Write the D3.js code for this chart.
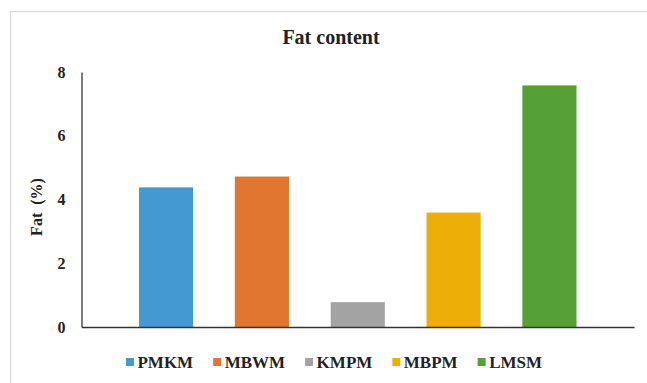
<!DOCTYPE html>
<html>
<head>
<meta charset="utf-8">
<script src="https://cdn.jsdelivr.net/npm/d3@7"></script>
<style>
  html, body { margin: 0; padding: 0; background: #fff; }
  svg { display: block; }
</style>
</head>
<body>
<svg id="chart" width="647" height="383"></svg>
<script>
// Fat content (%) per milk sample
const categories = ["PMKM", "MBWM", "KMPM", "MBPM", "LMSM"];
const fatValues = [4.38, 4.72, 0.78, 3.59, 7.58];
const barColors = ["#4499d3", "#e0762f", "#a3a3a3", "#edae08", "#56a136"];
const yTicks = [0, 2, 4, 6, 8];
const chartTitle = "Fat content";
const yTitleParts = ["Fat", "(%)"];

const SERIF = "'Liberation Serif', 'Times New Roman', serif";
const INK = "#222";

const svg = d3.select("#chart");
const W = 647, H = 383;

// chart frame (extends past the right and bottom edges)
svg.append("rect")
  .attr("x", 10.5).attr("y", 11.5)
  .attr("width", W).attr("height", H)
  .attr("fill", "#fff")
  .attr("stroke", "#d9d9d9").attr("stroke-width", 1.2);

const plot = { left: 81.5, right: 634, top: 72, bottom: 327 };

const x = d3.scaleBand()
  .domain(categories)
  .range([plot.left, plot.right])
  .paddingInner(0.435)
  .paddingOuter(0.6);

const y = d3.scaleLinear()
  .domain([0, 8])
  .range([plot.bottom, plot.top]);

// bars
svg.append("g").selectAll("rect")
  .data(categories)
  .join("rect")
  .attr("x", d => x(d))
  .attr("y", (d, i) => y(fatValues[i]))
  .attr("width", x.bandwidth())
  .attr("height", (d, i) => y(0) - y(fatValues[i]))
  .attr("fill", (d, i) => barColors[i]);

// y axis: line plus bold labels, no tick marks
const yAxis = svg.append("g")
  .attr("transform", `translate(${plot.left},0)`)
  .call(d3.axisLeft(y).tickValues(yTicks).tickSize(0).tickPadding(16).tickFormat(d3.format("d")));
yAxis.select(".domain").attr("stroke", "#333").attr("stroke-width", 1.3);
yAxis.selectAll(".tick text")
  .style("font-family", SERIF)
  .style("font-weight", "bold")
  .style("font-size", "16px")
  .style("fill", INK);

// x axis baseline
const xAxis = svg.append("g")
  .attr("transform", `translate(0,${plot.bottom})`)
  .call(d3.axisBottom(x).tickSize(0).tickFormat(""));
xAxis.select(".domain").attr("stroke", "#333").attr("stroke-width", 1.3);

// title
svg.append("text")
  .attr("x", 331).attr("y", 44)
  .attr("text-anchor", "middle")
  .style("font-family", SERIF)
  .style("font-weight", "bold")
  .style("font-size", "20px")
  .style("fill", INK)
  .text(chartTitle);

// y axis title
const yt = svg.append("text")
  .attr("transform", "translate(42,207) rotate(-90)")
  .attr("text-anchor", "middle")
  .style("font-family", SERIF)
  .style("font-weight", "bold")
  .style("font-size", "16px")
  .style("fill", INK);
yt.append("tspan").text(yTitleParts[0]);
yt.append("tspan").attr("dx", 8).text(yTitleParts[1]);

// legend
const legend = svg.append("g").attr("transform", "translate(0,362)");
const items = legend.selectAll("g")
  .data(categories)
  .join("g");
items.append("rect")
  .attr("width", 8).attr("height", 8)
  .attr("y", -4)
  .attr("fill", (d, i) => barColors[i]);
items.append("text")
  .attr("x", 11.5)
  .attr("y", 6)
  .style("font-family", SERIF)
  .style("font-weight", "bold")
  .style("font-size", "17px")
  .style("fill", INK)
  .text(d => d);

let cursor = 0;
const gap = 20;
const offsets = [];
items.each(function () {
  offsets.push(cursor);
  const w = d3.select(this).select("text").node().getComputedTextLength();
  cursor += 11.5 + w + gap;
});
const totalWidth = cursor - gap;
const startX = 334 - totalWidth / 2;
items.attr("transform", (d, i) => `translate(${startX + offsets[i]},0)`);
</script>
</body>
</html>
